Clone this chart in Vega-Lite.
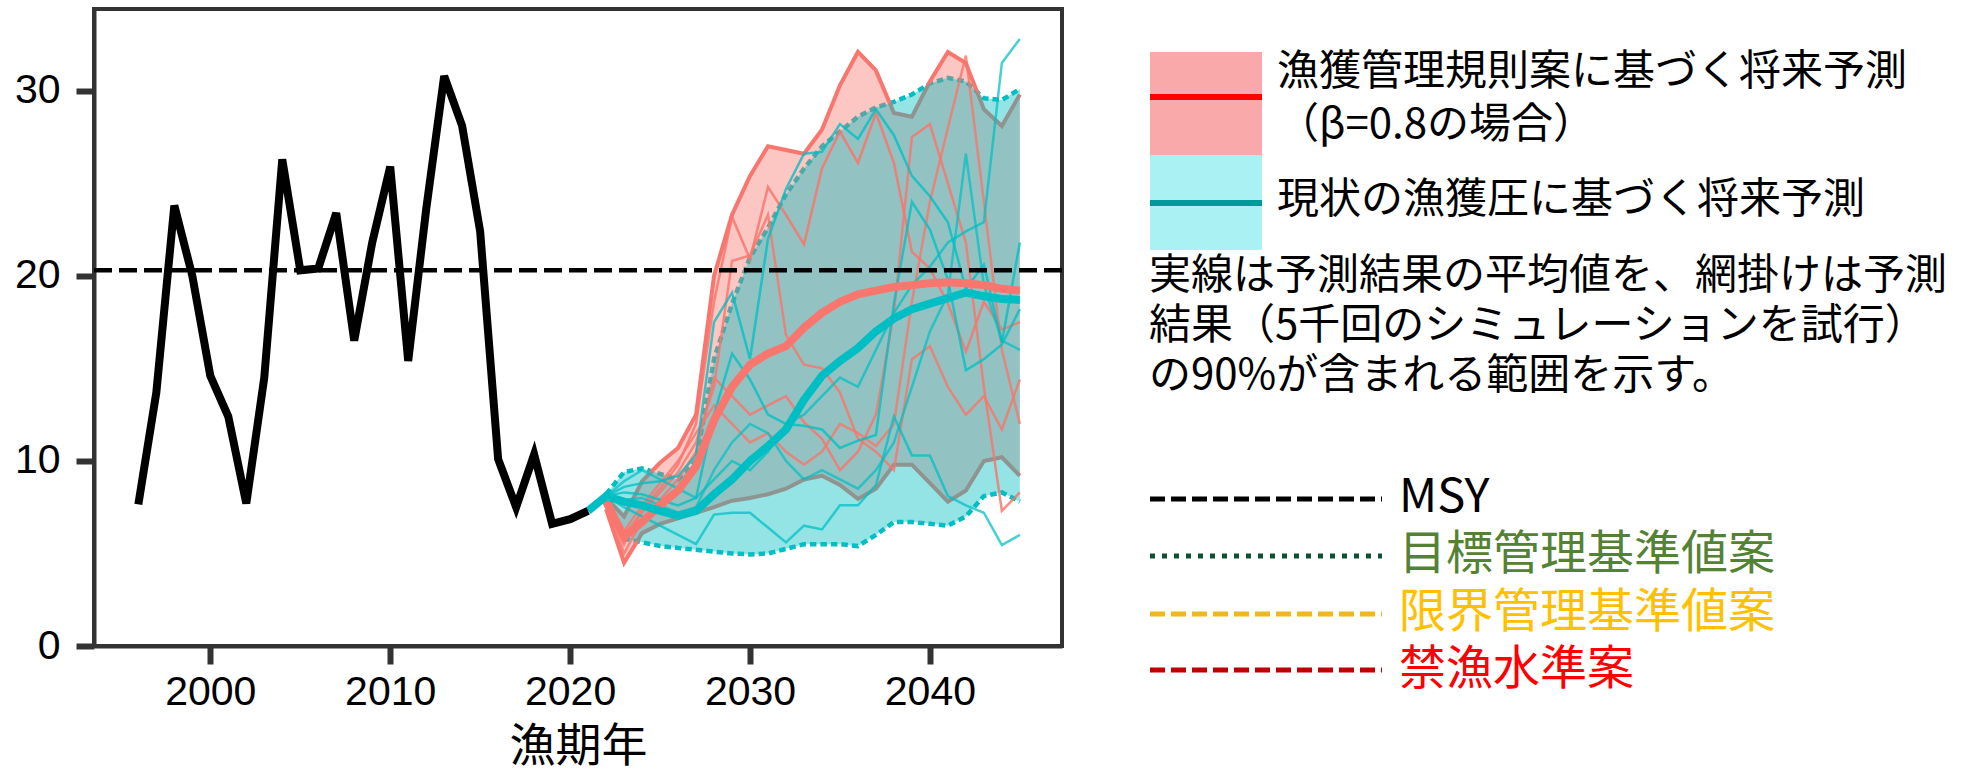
{
  "$schema": "https://vega.github.io/schema/vega-lite/v6.json",
  "padding": {"left": 12, "top": 7, "right": 0, "bottom": 0},
  "spacing": 80,
  "background": "white",
  "datasets": {
    "hist": [
      {"year": 1996, "value": 7.65}, {"year": 1997, "value": 13.7}, {"year": 1998, "value": 23.8},
      {"year": 1999, "value": 20.0}, {"year": 2000, "value": 14.6}, {"year": 2001, "value": 12.4},
      {"year": 2002, "value": 7.7}, {"year": 2003, "value": 14.5}, {"year": 2004, "value": 26.3},
      {"year": 2005, "value": 20.3}, {"year": 2006, "value": 20.4}, {"year": 2007, "value": 23.4},
      {"year": 2008, "value": 16.5}, {"year": 2009, "value": 21.8}, {"year": 2010, "value": 25.9},
      {"year": 2011, "value": 15.4}, {"year": 2012, "value": 23.6}, {"year": 2013, "value": 30.8},
      {"year": 2014, "value": 28.1}, {"year": 2015, "value": 22.4}, {"year": 2016, "value": 10.1},
      {"year": 2017, "value": 7.5}, {"year": 2018, "value": 10.35}, {"year": 2019, "value": 6.6},
      {"year": 2020, "value": 6.85}, {"year": 2021, "value": 7.3}
    ],
    "proj": [
      {"year": 2021, "scenario": "current", "mean": 7.3},
      {"year": 2022, "scenario": "rule", "lo": 7.4, "hi": 8.0, "mean": 7.8},
      {"year": 2023, "scenario": "rule", "lo": 4.5, "hi": 7.0, "mean": 5.9},
      {"year": 2024, "scenario": "rule", "lo": 6.1, "hi": 8.9, "mean": 6.7},
      {"year": 2025, "scenario": "rule", "lo": 6.6, "hi": 9.9, "mean": 7.6},
      {"year": 2026, "scenario": "rule", "lo": 6.9, "hi": 10.7, "mean": 8.4},
      {"year": 2027, "scenario": "rule", "lo": 7.2, "hi": 12.5, "mean": 9.7},
      {"year": 2028, "scenario": "rule", "lo": 7.5, "hi": 20.0, "mean": 12.2},
      {"year": 2029, "scenario": "rule", "lo": 7.85, "hi": 23.3, "mean": 14.0},
      {"year": 2030, "scenario": "rule", "lo": 8.0, "hi": 25.4, "mean": 15.2},
      {"year": 2031, "scenario": "rule", "lo": 8.2, "hi": 27.0, "mean": 15.8},
      {"year": 2032, "scenario": "rule", "lo": 8.5, "hi": 26.8, "mean": 16.2},
      {"year": 2033, "scenario": "rule", "lo": 9.0, "hi": 26.6, "mean": 17.2},
      {"year": 2034, "scenario": "rule", "lo": 9.2, "hi": 27.9, "mean": 18.0},
      {"year": 2035, "scenario": "rule", "lo": 8.7, "hi": 30.3, "mean": 18.6},
      {"year": 2036, "scenario": "rule", "lo": 7.95, "hi": 32.1, "mean": 19.0},
      {"year": 2037, "scenario": "rule", "lo": 8.5, "hi": 31.1, "mean": 19.2},
      {"year": 2038, "scenario": "rule", "lo": 9.8, "hi": 28.8, "mean": 19.4},
      {"year": 2039, "scenario": "rule", "lo": 9.8, "hi": 28.6, "mean": 19.5},
      {"year": 2040, "scenario": "rule", "lo": 8.8, "hi": 30.5, "mean": 19.6},
      {"year": 2041, "scenario": "rule", "lo": 7.8, "hi": 32.1, "mean": 19.65},
      {"year": 2042, "scenario": "rule", "lo": 8.4, "hi": 31.5, "mean": 19.6},
      {"year": 2043, "scenario": "rule", "lo": 10.0, "hi": 29.0, "mean": 19.5},
      {"year": 2044, "scenario": "rule", "lo": 10.2, "hi": 28.1, "mean": 19.3},
      {"year": 2045, "scenario": "rule", "lo": 9.2, "hi": 29.8, "mean": 19.2},
      {"year": 2022, "scenario": "current", "lo": 7.9, "hi": 8.2, "mean": 8.1},
      {"year": 2023, "scenario": "current", "lo": 5.8, "hi": 9.4, "mean": 7.8},
      {"year": 2024, "scenario": "current", "lo": 5.6, "hi": 9.6, "mean": 7.6},
      {"year": 2025, "scenario": "current", "lo": 5.4, "hi": 9.3, "mean": 7.3},
      {"year": 2026, "scenario": "current", "lo": 5.3, "hi": 9.0, "mean": 7.05},
      {"year": 2027, "scenario": "current", "lo": 5.2, "hi": 10.0, "mean": 7.3},
      {"year": 2028, "scenario": "current", "lo": 5.1, "hi": 15.5, "mean": 8.2},
      {"year": 2029, "scenario": "current", "lo": 5.0, "hi": 18.5, "mean": 9.0},
      {"year": 2030, "scenario": "current", "lo": 4.95, "hi": 21.0, "mean": 10.0},
      {"year": 2031, "scenario": "current", "lo": 5.0, "hi": 22.6, "mean": 10.8},
      {"year": 2032, "scenario": "current", "lo": 5.25, "hi": 24.4, "mean": 11.7},
      {"year": 2033, "scenario": "current", "lo": 5.5, "hi": 25.8, "mean": 13.3},
      {"year": 2034, "scenario": "current", "lo": 5.5, "hi": 27.0, "mean": 14.6},
      {"year": 2035, "scenario": "current", "lo": 5.5, "hi": 27.8, "mean": 15.4},
      {"year": 2036, "scenario": "current", "lo": 5.4, "hi": 28.6, "mean": 16.1},
      {"year": 2037, "scenario": "current", "lo": 6.0, "hi": 29.1, "mean": 17.0},
      {"year": 2038, "scenario": "current", "lo": 6.7, "hi": 29.4, "mean": 17.7},
      {"year": 2039, "scenario": "current", "lo": 6.7, "hi": 29.8, "mean": 18.2},
      {"year": 2040, "scenario": "current", "lo": 6.6, "hi": 30.4, "mean": 18.5},
      {"year": 2041, "scenario": "current", "lo": 6.5, "hi": 30.7, "mean": 18.8},
      {"year": 2042, "scenario": "current", "lo": 7.0, "hi": 30.5, "mean": 19.1},
      {"year": 2043, "scenario": "current", "lo": 8.1, "hi": 29.6, "mean": 18.9},
      {"year": 2044, "scenario": "current", "lo": 8.3, "hi": 29.5, "mean": 18.75},
      {"year": 2045, "scenario": "current", "lo": 7.8, "hi": 30.1, "mean": 18.7}
    ],
    "traj": [
      {"sim": "S1", "year": 2022, "value": 7.8}, {"sim": "S1", "year": 2023, "value": 5.5}, {"sim": "S1", "year": 2024, "value": 7.4}, {"sim": "S1", "year": 2025, "value": 8.5}, {"sim": "S1", "year": 2026, "value": 9.8}, {"sim": "S1", "year": 2027, "value": 12.0}, {"sim": "S1", "year": 2028, "value": 18.6}, {"sim": "S1", "year": 2029, "value": 23.2}, {"sim": "S1", "year": 2030, "value": 20.9}, {"sim": "S1", "year": 2031, "value": 24.8}, {"sim": "S1", "year": 2032, "value": 23.3}, {"sim": "S1", "year": 2033, "value": 21.7}, {"sim": "S1", "year": 2034, "value": 25.8}, {"sim": "S1", "year": 2035, "value": 27.8}, {"sim": "S1", "year": 2036, "value": 26.1}, {"sim": "S1", "year": 2037, "value": 28.8}, {"sim": "S1", "year": 2038, "value": 26.1}, {"sim": "S1", "year": 2039, "value": 21.3}, {"sim": "S1", "year": 2040, "value": 20.4}, {"sim": "S1", "year": 2041, "value": 18.5}, {"sim": "S1", "year": 2042, "value": 15.9}, {"sim": "S1", "year": 2043, "value": 18.6}, {"sim": "S1", "year": 2044, "value": 17.1}, {"sim": "S1", "year": 2045, "value": 17.5},
      {"sim": "S2", "year": 2022, "value": 7.8}, {"sim": "S2", "year": 2023, "value": 5.0}, {"sim": "S2", "year": 2024, "value": 6.8}, {"sim": "S2", "year": 2025, "value": 7.9}, {"sim": "S2", "year": 2026, "value": 9.0}, {"sim": "S2", "year": 2027, "value": 10.5}, {"sim": "S2", "year": 2028, "value": 14.5}, {"sim": "S2", "year": 2029, "value": 13.5}, {"sim": "S2", "year": 2030, "value": 12.5}, {"sim": "S2", "year": 2031, "value": 13.0}, {"sim": "S2", "year": 2032, "value": 13.5}, {"sim": "S2", "year": 2033, "value": 12.1}, {"sim": "S2", "year": 2034, "value": 11.2}, {"sim": "S2", "year": 2035, "value": 9.5}, {"sim": "S2", "year": 2036, "value": 10.5}, {"sim": "S2", "year": 2037, "value": 12.5}, {"sim": "S2", "year": 2038, "value": 18.0}, {"sim": "S2", "year": 2039, "value": 27.5}, {"sim": "S2", "year": 2040, "value": 28.2}, {"sim": "S2", "year": 2041, "value": 25.0}, {"sim": "S2", "year": 2042, "value": 21.8}, {"sim": "S2", "year": 2043, "value": 14.0}, {"sim": "S2", "year": 2044, "value": 7.3}, {"sim": "S2", "year": 2045, "value": 8.3},
      {"sim": "S3", "year": 2022, "value": 7.8}, {"sim": "S3", "year": 2023, "value": 6.0}, {"sim": "S3", "year": 2024, "value": 7.2}, {"sim": "S3", "year": 2025, "value": 8.3}, {"sim": "S3", "year": 2026, "value": 9.4}, {"sim": "S3", "year": 2027, "value": 11.0}, {"sim": "S3", "year": 2028, "value": 14.0}, {"sim": "S3", "year": 2029, "value": 20.8}, {"sim": "S3", "year": 2030, "value": 21.1}, {"sim": "S3", "year": 2031, "value": 23.3}, {"sim": "S3", "year": 2032, "value": 16.8}, {"sim": "S3", "year": 2033, "value": 15.2}, {"sim": "S3", "year": 2034, "value": 15.0}, {"sim": "S3", "year": 2035, "value": 13.7}, {"sim": "S3", "year": 2036, "value": 11.2}, {"sim": "S3", "year": 2037, "value": 10.5}, {"sim": "S3", "year": 2038, "value": 9.5}, {"sim": "S3", "year": 2039, "value": 15.5}, {"sim": "S3", "year": 2040, "value": 16.2}, {"sim": "S3", "year": 2041, "value": 14.0}, {"sim": "S3", "year": 2042, "value": 12.5}, {"sim": "S3", "year": 2043, "value": 13.5}, {"sim": "S3", "year": 2044, "value": 11.7}, {"sim": "S3", "year": 2045, "value": 14.4},
      {"sim": "S4", "year": 2022, "value": 7.8}, {"sim": "S4", "year": 2023, "value": 6.2}, {"sim": "S4", "year": 2024, "value": 7.6}, {"sim": "S4", "year": 2025, "value": 8.8}, {"sim": "S4", "year": 2026, "value": 10.0}, {"sim": "S4", "year": 2027, "value": 11.5}, {"sim": "S4", "year": 2028, "value": 13.0}, {"sim": "S4", "year": 2029, "value": 12.0}, {"sim": "S4", "year": 2030, "value": 11.0}, {"sim": "S4", "year": 2031, "value": 11.5}, {"sim": "S4", "year": 2032, "value": 10.5}, {"sim": "S4", "year": 2033, "value": 9.8}, {"sim": "S4", "year": 2034, "value": 10.5}, {"sim": "S4", "year": 2035, "value": 12.0}, {"sim": "S4", "year": 2036, "value": 11.5}, {"sim": "S4", "year": 2037, "value": 10.8}, {"sim": "S4", "year": 2038, "value": 12.0}, {"sim": "S4", "year": 2039, "value": 18.6}, {"sim": "S4", "year": 2040, "value": 24.0}, {"sim": "S4", "year": 2041, "value": 28.0}, {"sim": "S4", "year": 2042, "value": 31.9}, {"sim": "S4", "year": 2043, "value": 24.0}, {"sim": "S4", "year": 2044, "value": 16.0}, {"sim": "S4", "year": 2045, "value": 12.0},
      {"sim": "T1", "year": 2022, "value": 8.1}, {"sim": "T1", "year": 2023, "value": 8.6}, {"sim": "T1", "year": 2024, "value": 8.8}, {"sim": "T1", "year": 2025, "value": 8.9}, {"sim": "T1", "year": 2026, "value": 9.2}, {"sim": "T1", "year": 2027, "value": 10.3}, {"sim": "T1", "year": 2028, "value": 17.5}, {"sim": "T1", "year": 2029, "value": 19.1}, {"sim": "T1", "year": 2030, "value": 15.5}, {"sim": "T1", "year": 2031, "value": 22.0}, {"sim": "T1", "year": 2032, "value": 24.7}, {"sim": "T1", "year": 2033, "value": 26.6}, {"sim": "T1", "year": 2034, "value": 26.7}, {"sim": "T1", "year": 2035, "value": 28.2}, {"sim": "T1", "year": 2036, "value": 27.4}, {"sim": "T1", "year": 2037, "value": 29.0}, {"sim": "T1", "year": 2038, "value": 27.6}, {"sim": "T1", "year": 2039, "value": 25.4}, {"sim": "T1", "year": 2040, "value": 24.3}, {"sim": "T1", "year": 2041, "value": 22.9}, {"sim": "T1", "year": 2042, "value": 19.3}, {"sim": "T1", "year": 2043, "value": 20.6}, {"sim": "T1", "year": 2044, "value": 16.4}, {"sim": "T1", "year": 2045, "value": 21.8},
      {"sim": "T2", "year": 2022, "value": 8.1}, {"sim": "T2", "year": 2023, "value": 8.3}, {"sim": "T2", "year": 2024, "value": 8.2}, {"sim": "T2", "year": 2025, "value": 7.9}, {"sim": "T2", "year": 2026, "value": 7.6}, {"sim": "T2", "year": 2027, "value": 8.0}, {"sim": "T2", "year": 2028, "value": 12.5}, {"sim": "T2", "year": 2029, "value": 15.8}, {"sim": "T2", "year": 2030, "value": 14.4}, {"sim": "T2", "year": 2031, "value": 12.5}, {"sim": "T2", "year": 2032, "value": 12.0}, {"sim": "T2", "year": 2033, "value": 11.9}, {"sim": "T2", "year": 2034, "value": 11.7}, {"sim": "T2", "year": 2035, "value": 10.7}, {"sim": "T2", "year": 2036, "value": 11.1}, {"sim": "T2", "year": 2037, "value": 11.4}, {"sim": "T2", "year": 2038, "value": 18.5}, {"sim": "T2", "year": 2039, "value": 24.0}, {"sim": "T2", "year": 2040, "value": 22.5}, {"sim": "T2", "year": 2041, "value": 19.8}, {"sim": "T2", "year": 2042, "value": 14.9}, {"sim": "T2", "year": 2043, "value": 15.5}, {"sim": "T2", "year": 2044, "value": 16.3}, {"sim": "T2", "year": 2045, "value": 18.2},
      {"sim": "T3", "year": 2022, "value": 8.1}, {"sim": "T3", "year": 2023, "value": 7.5}, {"sim": "T3", "year": 2024, "value": 7.0}, {"sim": "T3", "year": 2025, "value": 6.5}, {"sim": "T3", "year": 2026, "value": 6.0}, {"sim": "T3", "year": 2027, "value": 5.5}, {"sim": "T3", "year": 2028, "value": 7.1}, {"sim": "T3", "year": 2029, "value": 7.2}, {"sim": "T3", "year": 2030, "value": 7.2}, {"sim": "T3", "year": 2031, "value": 6.4}, {"sim": "T3", "year": 2032, "value": 5.6}, {"sim": "T3", "year": 2033, "value": 6.5}, {"sim": "T3", "year": 2034, "value": 6.3}, {"sim": "T3", "year": 2035, "value": 7.6}, {"sim": "T3", "year": 2036, "value": 7.6}, {"sim": "T3", "year": 2037, "value": 8.7}, {"sim": "T3", "year": 2038, "value": 12.4}, {"sim": "T3", "year": 2039, "value": 10.3}, {"sim": "T3", "year": 2040, "value": 10.3}, {"sim": "T3", "year": 2041, "value": 8.1}, {"sim": "T3", "year": 2042, "value": 7.6}, {"sim": "T3", "year": 2043, "value": 7.2}, {"sim": "T3", "year": 2044, "value": 5.45}, {"sim": "T3", "year": 2045, "value": 6.0},
      {"sim": "T4", "year": 2022, "value": 8.1}, {"sim": "T4", "year": 2023, "value": 8.9}, {"sim": "T4", "year": 2024, "value": 9.5}, {"sim": "T4", "year": 2025, "value": 9.0}, {"sim": "T4", "year": 2026, "value": 8.5}, {"sim": "T4", "year": 2027, "value": 8.0}, {"sim": "T4", "year": 2028, "value": 9.0}, {"sim": "T4", "year": 2029, "value": 10.0}, {"sim": "T4", "year": 2030, "value": 9.5}, {"sim": "T4", "year": 2031, "value": 10.5}, {"sim": "T4", "year": 2032, "value": 12.0}, {"sim": "T4", "year": 2033, "value": 12.5}, {"sim": "T4", "year": 2034, "value": 13.5}, {"sim": "T4", "year": 2035, "value": 14.5}, {"sim": "T4", "year": 2036, "value": 14.0}, {"sim": "T4", "year": 2037, "value": 16.0}, {"sim": "T4", "year": 2038, "value": 18.0}, {"sim": "T4", "year": 2039, "value": 19.5}, {"sim": "T4", "year": 2040, "value": 20.5}, {"sim": "T4", "year": 2041, "value": 21.8}, {"sim": "T4", "year": 2042, "value": 22.4}, {"sim": "T4", "year": 2043, "value": 22.9}, {"sim": "T4", "year": 2044, "value": 31.5}, {"sim": "T4", "year": 2045, "value": 32.8},
      {"sim": "T5", "year": 2022, "value": 8.1}, {"sim": "T5", "year": 2023, "value": 7.9}, {"sim": "T5", "year": 2024, "value": 8.0}, {"sim": "T5", "year": 2025, "value": 7.6}, {"sim": "T5", "year": 2026, "value": 7.2}, {"sim": "T5", "year": 2027, "value": 7.5}, {"sim": "T5", "year": 2028, "value": 9.5}, {"sim": "T5", "year": 2029, "value": 11.0}, {"sim": "T5", "year": 2030, "value": 12.0}, {"sim": "T5", "year": 2031, "value": 11.5}, {"sim": "T5", "year": 2032, "value": 10.0}, {"sim": "T5", "year": 2033, "value": 9.0}, {"sim": "T5", "year": 2034, "value": 9.5}, {"sim": "T5", "year": 2035, "value": 9.0}, {"sim": "T5", "year": 2036, "value": 8.5}, {"sim": "T5", "year": 2037, "value": 9.5}, {"sim": "T5", "year": 2038, "value": 11.0}, {"sim": "T5", "year": 2039, "value": 14.0}, {"sim": "T5", "year": 2040, "value": 17.0}, {"sim": "T5", "year": 2041, "value": 19.0}, {"sim": "T5", "year": 2042, "value": 26.6}, {"sim": "T5", "year": 2043, "value": 19.5}, {"sim": "T5", "year": 2044, "value": 16.5}, {"sim": "T5", "year": 2045, "value": 16.0}
    ],
    "msy": [{"name": "MSY", "value": 20.3}]
  },
  "hconcat": [
    {
      "width": 968,
      "height": 637,
      "view": {"stroke": "#333333", "strokeWidth": 4},
      "layer": [
        {
          "data": {"name": "proj"},
          "transform": [{"filter": "datum.scenario === 'current'"}],
          "mark": {"type": "line", "color": "#00BFC4", "strokeWidth": 4.5, "strokeDash": [6.5, 4]},
          "encoding": {
            "x": {"field": "year", "type": "quantitative", "scale": {"domain": [1993.535, 2047.343], "nice": false, "zero": false}, "axis": {"values": [2000, 2010, 2020, 2030, 2040], "format": "d"}, "title": "漁期年"},
            "y": {"field": "hi", "type": "quantitative", "scale": {"domain": [0, 34.42], "nice": false}, "axis": {"values": [0, 10, 20, 30]}, "title": null}
          }
        },
        {
          "data": {"name": "proj"},
          "transform": [{"filter": "datum.scenario === 'current'"}],
          "mark": {"type": "line", "color": "#00BFC4", "strokeWidth": 4.5, "strokeDash": [6.5, 4]},
          "encoding": {
            "x": {"field": "year", "type": "quantitative", "scale": {"domain": [1993.535, 2047.343], "nice": false, "zero": false}, "axis": {"values": [2000, 2010, 2020, 2030, 2040], "format": "d"}, "title": "漁期年"},
            "y": {"field": "lo", "type": "quantitative", "scale": {"domain": [0, 34.42], "nice": false}, "axis": {"values": [0, 10, 20, 30]}, "title": null}
          }
        },
        {
          "data": {"name": "proj"},
          "transform": [{"filter": "datum.scenario === 'rule'"}],
          "mark": {"type": "area", "color": "#F8766D", "opacity": 0.42},
          "encoding": {
            "x": {"field": "year", "type": "quantitative", "scale": {"domain": [1993.535, 2047.343], "nice": false, "zero": false}, "axis": {"values": [2000, 2010, 2020, 2030, 2040], "format": "d"}, "title": "漁期年"},
            "y": {"field": "lo", "type": "quantitative", "scale": {"domain": [0, 34.42], "nice": false}, "axis": {"values": [0, 10, 20, 30]}, "title": null},
            "y2": {"field": "hi"}
          }
        },
        {
          "data": {"name": "proj"},
          "transform": [{"filter": "datum.scenario === 'rule'"}],
          "mark": {"type": "line", "color": "#F8766D", "strokeWidth": 4},
          "encoding": {
            "x": {"field": "year", "type": "quantitative", "scale": {"domain": [1993.535, 2047.343], "nice": false, "zero": false}, "axis": {"values": [2000, 2010, 2020, 2030, 2040], "format": "d"}, "title": "漁期年"},
            "y": {"field": "hi", "type": "quantitative", "scale": {"domain": [0, 34.42], "nice": false}, "axis": {"values": [0, 10, 20, 30]}, "title": null}
          }
        },
        {
          "data": {"name": "proj"},
          "transform": [{"filter": "datum.scenario === 'rule'"}],
          "mark": {"type": "line", "color": "#F8766D", "strokeWidth": 4},
          "encoding": {
            "x": {"field": "year", "type": "quantitative", "scale": {"domain": [1993.535, 2047.343], "nice": false, "zero": false}, "axis": {"values": [2000, 2010, 2020, 2030, 2040], "format": "d"}, "title": "漁期年"},
            "y": {"field": "lo", "type": "quantitative", "scale": {"domain": [0, 34.42], "nice": false}, "axis": {"values": [0, 10, 20, 30]}, "title": null}
          }
        },
        {
          "data": {"name": "proj"},
          "transform": [{"filter": "datum.scenario === 'current'"}],
          "mark": {"type": "area", "color": "#00BFC4", "opacity": 0.42},
          "encoding": {
            "x": {"field": "year", "type": "quantitative", "scale": {"domain": [1993.535, 2047.343], "nice": false, "zero": false}, "axis": {"values": [2000, 2010, 2020, 2030, 2040], "format": "d"}, "title": "漁期年"},
            "y": {"field": "lo", "type": "quantitative", "scale": {"domain": [0, 34.42], "nice": false}, "axis": {"values": [0, 10, 20, 30]}, "title": null},
            "y2": {"field": "hi"}
          }
        },
        {
          "data": {"name": "traj"},
          "mark": {"type": "line", "strokeWidth": 2.5},
          "encoding": {
            "x": {"field": "year", "type": "quantitative", "scale": {"domain": [1993.535, 2047.343], "nice": false, "zero": false}, "axis": {"values": [2000, 2010, 2020, 2030, 2040], "format": "d"}, "title": "漁期年"},
            "y": {"field": "value", "type": "quantitative", "scale": {"domain": [0, 34.42], "nice": false}, "axis": {"values": [0, 10, 20, 30]}, "title": null},
            "detail": {"field": "sim", "type": "nominal"},
            "color": {"field": "sim", "type": "nominal", "scale": {"domain": ["S1", "S2", "S3", "S4", "T1", "T2", "T3", "T4", "T5"], "range": ["#F8766D", "#F8766D", "#F8766D", "#F8766D", "#00BFC4", "#00BFC4", "#00BFC4", "#00BFC4", "#00BFC4"]}, "legend": null},
            "opacity": {"field": "sim", "type": "nominal", "scale": {"domain": ["S1", "S2", "S3", "S4", "T1", "T2", "T3", "T4", "T5"], "range": [0.85, 0.7, 0.5, 0.35, 0.9, 0.8, 0.7, 0.14, 0.55]}, "legend": null}
          }
        },
        {
          "data": {"name": "proj"},
          "transform": [{"filter": "datum.scenario === 'rule'"}],
          "mark": {"type": "line", "color": "#F8766D", "strokeWidth": 8},
          "encoding": {
            "x": {"field": "year", "type": "quantitative", "scale": {"domain": [1993.535, 2047.343], "nice": false, "zero": false}, "axis": {"values": [2000, 2010, 2020, 2030, 2040], "format": "d"}, "title": "漁期年"},
            "y": {"field": "mean", "type": "quantitative", "scale": {"domain": [0, 34.42], "nice": false}, "axis": {"values": [0, 10, 20, 30]}, "title": null}
          }
        },
        {
          "data": {"name": "proj"},
          "transform": [{"filter": "datum.scenario === 'current'"}],
          "mark": {"type": "line", "color": "#00BFC4", "strokeWidth": 8},
          "encoding": {
            "x": {"field": "year", "type": "quantitative", "scale": {"domain": [1993.535, 2047.343], "nice": false, "zero": false}, "axis": {"values": [2000, 2010, 2020, 2030, 2040], "format": "d"}, "title": "漁期年"},
            "y": {"field": "mean", "type": "quantitative", "scale": {"domain": [0, 34.42], "nice": false}, "axis": {"values": [0, 10, 20, 30]}, "title": null}
          }
        },
        {
          "data": {"name": "hist"},
          "mark": {"type": "line", "color": "#000000", "strokeWidth": 8},
          "encoding": {
            "x": {"field": "year", "type": "quantitative", "scale": {"domain": [1993.535, 2047.343], "nice": false, "zero": false}, "axis": {"values": [2000, 2010, 2020, 2030, 2040], "format": "d"}, "title": "漁期年"},
            "y": {"field": "value", "type": "quantitative", "scale": {"domain": [0, 34.42], "nice": false}, "axis": {"values": [0, 10, 20, 30]}, "title": null}
          }
        },
        {
          "data": {"name": "msy"},
          "mark": {"type": "rule", "color": "#000000", "strokeWidth": 4.5, "strokeDash": [18, 7]},
          "encoding": {
            "y": {"field": "value", "type": "quantitative", "scale": {"domain": [0, 34.42], "nice": false}, "axis": {"values": [0, 10, 20, 30]}, "title": null}
          }
        }
      ]
    },
    {
      "width": 820,
      "height": 764,
      "view": {"stroke": null},
      "encoding": {
        "x": {"type": "quantitative", "scale": {"domain": [0, 820], "nice": false, "zero": false}, "axis": null},
        "y": {"type": "quantitative", "scale": {"domain": [0, 764], "nice": false, "zero": false, "reverse": true}, "axis": null}
      },
      "layer": [
        {
          "data": {"values": [{"series": "漁獲管理規則案"}]},
          "mark": {"type": "rect", "color": "#F9A9A9"},
          "encoding": {"x": {"datum": 1}, "x2": {"datum": 113}, "y": {"datum": 43}, "y2": {"datum": 146}}
        },
        {
          "data": {"values": [{"series": "現状の漁獲圧"}]},
          "mark": {"type": "rect", "color": "#AAF1F4"},
          "encoding": {"x": {"datum": 1}, "x2": {"datum": 113}, "y": {"datum": 146}, "y2": {"datum": 241}}
        },
        {
          "data": {"values": [{"series": "漁獲管理規則案"}]},
          "mark": {"type": "rule", "color": "#FF0000", "strokeWidth": 6},
          "encoding": {"x": {"datum": 1}, "x2": {"datum": 113}, "y": {"datum": 88}}
        },
        {
          "data": {"values": [{"series": "現状の漁獲圧"}]},
          "mark": {"type": "rule", "color": "#009999", "strokeWidth": 6},
          "encoding": {"x": {"datum": 1}, "x2": {"datum": 113}, "y": {"datum": 194}}
        },
        {
          "data": {"values": [{"label": "漁獲管理規則案に基づく将来予測"}]},
          "mark": {"type": "text", "align": "left", "baseline": "middle", "font": "Noto Sans CJK JP", "fontSize": 42, "color": "#000000"},
          "encoding": {"text": {"field": "label"}, "x": {"datum": 128}, "y": {"datum": 63}}
        },
        {
          "data": {"values": [{"label": "（β=0.8の場合）"}]},
          "mark": {"type": "text", "align": "left", "baseline": "middle", "font": "Noto Sans CJK JP", "fontSize": 42, "color": "#000000"},
          "encoding": {"text": {"field": "label"}, "x": {"datum": 128}, "y": {"datum": 116}}
        },
        {
          "data": {"values": [{"label": "現状の漁獲圧に基づく将来予測"}]},
          "mark": {"type": "text", "align": "left", "baseline": "middle", "font": "Noto Sans CJK JP", "fontSize": 42, "color": "#000000"},
          "encoding": {"text": {"field": "label"}, "x": {"datum": 128}, "y": {"datum": 191}}
        },
        {
          "data": {"values": [{"label": "実線は予測結果の平均値を、網掛けは予測"}]},
          "mark": {"type": "text", "align": "left", "baseline": "middle", "font": "Noto Sans CJK JP", "fontSize": 42, "color": "#000000"},
          "encoding": {"text": {"field": "label"}, "x": {"datum": 0}, "y": {"datum": 267}}
        },
        {
          "data": {"values": [{"label": "結果（5千回のシミュレーションを試行）"}]},
          "mark": {"type": "text", "align": "left", "baseline": "middle", "font": "Noto Sans CJK JP", "fontSize": 42, "color": "#000000"},
          "encoding": {"text": {"field": "label"}, "x": {"datum": 0}, "y": {"datum": 317}}
        },
        {
          "data": {"values": [{"label": "の90%が含まれる範囲を示す。"}]},
          "mark": {"type": "text", "align": "left", "baseline": "middle", "font": "Noto Sans CJK JP", "fontSize": 42, "color": "#000000"},
          "encoding": {"text": {"field": "label"}, "x": {"datum": 0}, "y": {"datum": 367}}
        },
        {
          "data": {"values": [{"label": "MSY"}]},
          "mark": {"type": "rule", "color": "#000000", "strokeWidth": 5, "strokeDash": [15, 6]},
          "encoding": {"x": {"datum": 1}, "x2": {"datum": 233}, "y": {"datum": 490}}
        },
        {
          "data": {"values": [{"label": "目標管理基準値案"}]},
          "mark": {"type": "rule", "color": "#0E5133", "strokeWidth": 5, "strokeDash": [5, 7]},
          "encoding": {"x": {"datum": 1}, "x2": {"datum": 233}, "y": {"datum": 547}}
        },
        {
          "data": {"values": [{"label": "限界管理基準値案"}]},
          "mark": {"type": "rule", "color": "#F0B81E", "strokeWidth": 5, "strokeDash": [15, 6]},
          "encoding": {"x": {"datum": 1}, "x2": {"datum": 233}, "y": {"datum": 605}}
        },
        {
          "data": {"values": [{"label": "禁漁水準案"}]},
          "mark": {"type": "rule", "color": "#C00000", "strokeWidth": 5, "strokeDash": [15, 6]},
          "encoding": {"x": {"datum": 1}, "x2": {"datum": 233}, "y": {"datum": 661}}
        },
        {
          "data": {"values": [{"label": "MSY"}]},
          "mark": {"type": "text", "align": "left", "baseline": "middle", "font": "Noto Sans CJK JP", "fontSize": 47, "color": "#000000"},
          "encoding": {"text": {"field": "label"}, "x": {"datum": 250}, "y": {"datum": 489}}
        },
        {
          "data": {"values": [{"label": "目標管理基準値案"}]},
          "mark": {"type": "text", "align": "left", "baseline": "middle", "font": "Noto Sans CJK JP", "fontSize": 47, "color": "#548235"},
          "encoding": {"text": {"field": "label"}, "x": {"datum": 250}, "y": {"datum": 546}}
        },
        {
          "data": {"values": [{"label": "限界管理基準値案"}]},
          "mark": {"type": "text", "align": "left", "baseline": "middle", "font": "Noto Sans CJK JP", "fontSize": 47, "color": "#FFC000"},
          "encoding": {"text": {"field": "label"}, "x": {"datum": 250}, "y": {"datum": 604}}
        },
        {
          "data": {"values": [{"label": "禁漁水準案"}]},
          "mark": {"type": "text", "align": "left", "baseline": "middle", "font": "Noto Sans CJK JP", "fontSize": 47, "color": "#FF0000"},
          "encoding": {"text": {"field": "label"}, "x": {"datum": 250}, "y": {"datum": 661}}
        }
      ]
    }
  ],
  "config": {
    "axis": {
      "grid": false,
      "domainColor": "#333333",
      "domainWidth": 4,
      "tickColor": "#333333",
      "tickWidth": 6,
      "tickSize": 18,
      "labelFont": "Liberation Sans",
      "labelFontSize": 41,
      "labelColor": "#000000",
      "labelFlush": false,
      "labelOverlap": false,
      "titleFont": "Noto Sans CJK JP",
      "titleFontSize": 46,
      "titleFontWeight": "normal",
      "titleColor": "#000000"
    },
    "axisX": {"labelPadding": 8, "titlePadding": 12},
    "axisY": {"labelPadding": 16}
  }
}
